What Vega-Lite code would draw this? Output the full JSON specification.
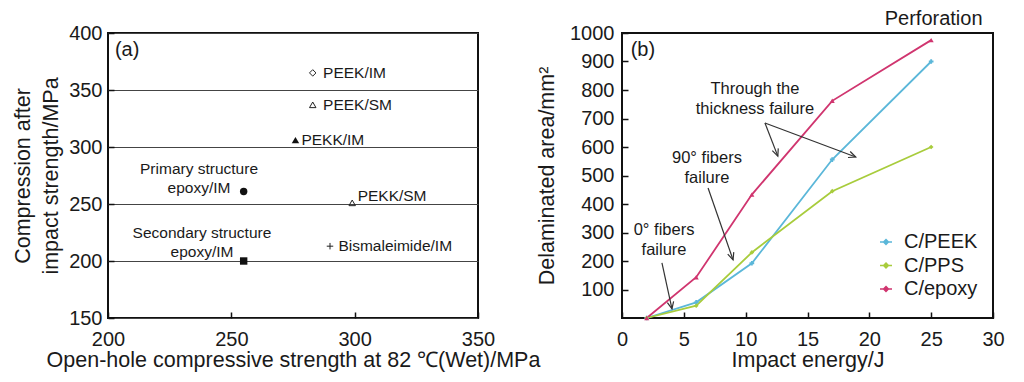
{
  "$schema": "https://vega.github.io/schema/vega-lite/v6.json",
  "background": "white",
  "padding": {"left": 11, "top": 8, "right": 5, "bottom": 5},
  "spacing": -6,
  "resolve": {"scale": {"color": "independent", "shape": "independent"}, "legend": {"color": "independent", "shape": "independent"}},
  "config": {
    "font": "Liberation Sans",
    "view": {"stroke": "#111", "strokeWidth": 2},
    "axis": {
      "domain": false, "grid": false, "tickSize": -6, "tickColor": "#111", "tickWidth": 1.5,
      "labelFont": "Liberation Sans", "labelFontSize": 20, "labelColor": "#1a1a1a",
      "titleFont": "Liberation Sans", "titleFontSize": 21.5, "titleFontWeight": "normal", "titleColor": "#1a1a1a",
      "labelFlush": false, "labelOverlap": false, "format": "d"
    },
    "text": {"font": "Liberation Sans", "color": "#1a1a1a"}
  },
  "datasets": {
    "materials": [
      {"material": "PEEK/IM", "ohc": 283, "cai": 365, "marker": "open diamond"},
      {"material": "PEEK/SM", "ohc": 283, "cai": 337, "marker": "open triangle"},
      {"material": "PEKK/IM", "ohc": 276, "cai": 306, "marker": "filled triangle"},
      {"material": "Primary structure epoxy/IM", "ohc": 255, "cai": 261, "marker": "filled circle"},
      {"material": "PEKK/SM", "ohc": 299, "cai": 251, "marker": "open triangle"},
      {"material": "Bismaleimide/IM", "ohc": 290, "cai": 213, "marker": "plus"},
      {"material": "Secondary structure epoxy/IM", "ohc": 255, "cai": 200, "marker": "filled square"}
    ],
    "aLabels": [
      {"label": "PEEK/IM", "ohc": 287.2, "cai": 365},
      {"label": "PEEK/SM", "ohc": 287.2, "cai": 337},
      {"label": "PEKK/IM", "ohc": 278.4, "cai": 306},
      {"label": "PEKK/SM", "ohc": 301.2, "cai": 257},
      {"label": "Bismaleimide/IM", "ohc": 293.4, "cai": 213}
    ],
    "aBlocks": [
      {"label": "Primary structure\nepoxy/IM", "ohc": 236.9, "cai": 280.7},
      {"label": "Secondary structure\nepoxy/IM", "ohc": 238.1, "cai": 224.6}
    ],
    "delam": [
      {"series": "C/PEEK", "energy": 2, "area": 0},
      {"series": "C/PEEK", "energy": 6, "area": 55},
      {"series": "C/PEEK", "energy": 10.5, "area": 192},
      {"series": "C/PEEK", "energy": 17, "area": 556},
      {"series": "C/PEEK", "energy": 25, "area": 900},
      {"series": "C/PPS", "energy": 2, "area": 0},
      {"series": "C/PPS", "energy": 6, "area": 43},
      {"series": "C/PPS", "energy": 10.5, "area": 230},
      {"series": "C/PPS", "energy": 17, "area": 445},
      {"series": "C/PPS", "energy": 25, "area": 600},
      {"series": "C/epoxy", "energy": 2, "area": 0},
      {"series": "C/epoxy", "energy": 6, "area": 143},
      {"series": "C/epoxy", "energy": 10.5, "area": 433},
      {"series": "C/epoxy", "energy": 17, "area": 762},
      {"series": "C/epoxy", "energy": 25, "area": 975}
    ],
    "arrows": [
      {"energy": 11.56, "area": 684, "energy2": 12.6, "area2": 568, "ang": 159},
      {"energy": 11.56, "area": 684, "energy2": 18.9, "area2": 565, "ang": 110.5},
      {"energy": 6.96, "area": 456, "energy2": 8.98, "area2": 204, "ang": 161},
      {"energy": 3.23, "area": 193, "energy2": 4.04, "area2": 32, "ang": 168}
    ],
    "bNotes": [
      {"label": "Through the\nthickness failure", "energy": 10.75, "area": 803},
      {"label": "90° fibers\nfailure", "energy": 6.87, "area": 561},
      {"label": "0° fibers\nfailure", "energy": 3.4, "area": 309}
    ]
  },
  "hconcat": [
    {
      "width": 370,
      "height": 285,
      "encoding": {
        "x": {"field": "ohc", "type": "quantitative", "scale": {"domain": [200, 350], "nice": false},
              "axis": {"values": [200, 250, 300, 350], "title": "Open-hole compressive strength at 82 ℃(Wet)/MPa", "labelPadding": 17, "titlePadding": 0}},
        "y": {"field": "cai", "type": "quantitative", "scale": {"domain": [150, 400], "nice": false},
              "axis": {"values": [150, 200, 250, 300, 350, 400], "grid": true, "gridColor": "#444", "gridWidth": 1, "gridOpacity": 1,
                       "title": ["Compression after", "impact strength/MPa"], "titleLineHeight": 28, "labelPadding": 12, "titlePadding": 6}}
      },
      "layer": [
        {
          "data": {"name": "materials"},
          "transform": [{"filter": "indexof(datum.marker, 'filled') < 0"}],
          "mark": {"type": "point", "filled": false, "stroke": "#222", "strokeWidth": 1, "size": 42, "opacity": 1},
          "encoding": {
            "shape": {"field": "marker", "type": "nominal", "legend": null,
                      "scale": {"domain": ["open diamond", "open triangle", "filled triangle", "filled circle", "filled square", "plus"],
                                "range": ["diamond", "triangle-up", "triangle-up", "circle", "square", "M-1,0L1,0M0,-1L0,1"]}}
          }
        },
        {
          "data": {"name": "materials"},
          "transform": [{"filter": "indexof(datum.marker, 'filled') >= 0"}],
          "mark": {"type": "point", "filled": true, "color": "#111", "size": 55, "opacity": 1},
          "encoding": {
            "shape": {"field": "marker", "type": "nominal", "legend": null}
          }
        },
        {
          "data": {"name": "aLabels"},
          "mark": {"type": "text", "align": "left", "baseline": "middle", "fontSize": 15.5},
          "encoding": {"text": {"field": "label"}}
        },
        {
          "data": {"name": "aBlocks"},
          "mark": {"type": "text", "align": "center", "baseline": "middle", "fontSize": 15.5, "lineBreak": "\n", "lineHeight": 19},
          "encoding": {"text": {"field": "label"}}
        },
        {
          "data": {"values": [{"label": "(a)", "ohc": 202.8, "cai": 385}]},
          "mark": {"type": "text", "align": "left", "baseline": "middle", "fontSize": 20},
          "encoding": {"text": {"field": "label"}}
        }
      ]
    },
    {
      "width": 371,
      "height": 285,
      "encoding": {
        "x": {"field": "energy", "type": "quantitative", "scale": {"domain": [0, 30], "nice": false},
              "axis": {"values": [0, 5, 10, 15, 20, 25, 30], "title": "Impact energy/J", "labelPadding": 17, "titlePadding": 0}},
        "y": {"field": "area", "type": "quantitative", "scale": {"domain": [0, 1000], "nice": false},
              "axis": {"values": [100, 200, 300, 400, 500, 600, 700, 800, 900, 1000], "title": "Delaminated area/mm²", "labelPadding": 14, "titlePadding": 11}}
      },
      "layer": [
        {
          "data": {"name": "delam"},
          "mark": {"type": "line", "strokeWidth": 1.8},
          "encoding": {
            "color": {"field": "series", "type": "nominal",
                      "scale": {"domain": ["C/PEEK", "C/PPS", "C/epoxy"], "range": ["#5bb7d9", "#a8cc3c", "#d0356f"]},
                      "legend": {"orient": "none", "legendX": 254, "legendY": 199, "title": null, "labelFontSize": 20, "labelColor": "#1a1a1a",
                                 "symbolType": "M-1,0L1,0M0,-0.4L0.4,0L0,0.4L-0.4,0Z", "symbolSize": 144, "symbolStrokeWidth": 1.5,
                                 "padding": 0, "rowPadding": 3.5, "labelOffset": 8}}
          }
        },
        {
          "data": {"name": "delam"},
          "transform": [{"filter": "datum.series == 'C/PEEK'"}],
          "mark": {"type": "point", "filled": true, "size": 22, "opacity": 1, "shape": "cross"},
          "encoding": {"color": {"field": "series", "type": "nominal", "legend": null}}
        },
        {
          "data": {"name": "delam"},
          "transform": [{"filter": "datum.series == 'C/PPS'"}],
          "mark": {"type": "point", "filled": true, "size": 22, "opacity": 1, "shape": "diamond"},
          "encoding": {"color": {"field": "series", "type": "nominal", "legend": null}}
        },
        {
          "data": {"name": "delam"},
          "transform": [{"filter": "datum.series == 'C/epoxy'"}],
          "mark": {"type": "point", "filled": true, "size": 26, "opacity": 1, "shape": "triangle-up"},
          "encoding": {"color": {"field": "series", "type": "nominal", "legend": null}}
        },
        {
          "data": {"name": "arrows"},
          "mark": {"type": "rule", "color": "#333", "strokeWidth": 1.2},
          "encoding": {
            "x2": {"field": "energy2"},
            "y2": {"field": "area2"}
          }
        },
        {
          "data": {"name": "arrows"},
          "mark": {"type": "point", "shape": "M-0.45,1L0,0L0.45,1", "filled": false, "stroke": "#333", "strokeWidth": 1.2, "size": 200, "opacity": 1},
          "encoding": {
            "x": {"field": "energy2", "type": "quantitative"},
            "y": {"field": "area2", "type": "quantitative"},
            "angle": {"field": "ang", "type": "quantitative", "scale": null}
          }
        },
        {
          "data": {"name": "bNotes"},
          "mark": {"type": "text", "align": "center", "baseline": "middle", "fontSize": 16.5, "lineBreak": "\n", "lineHeight": 20},
          "encoding": {"text": {"field": "label"}}
        },
        {
          "data": {"values": [{"label": "Perforation", "energy": 25.2, "area": 1049}]},
          "mark": {"type": "text", "align": "center", "baseline": "middle", "fontSize": 20},
          "encoding": {"text": {"field": "label"}}
        },
        {
          "data": {"values": [{"label": "(b)", "energy": 0.7, "area": 940}]},
          "mark": {"type": "text", "align": "left", "baseline": "middle", "fontSize": 20},
          "encoding": {"text": {"field": "label"}}
        }
      ]
    }
  ]
}
